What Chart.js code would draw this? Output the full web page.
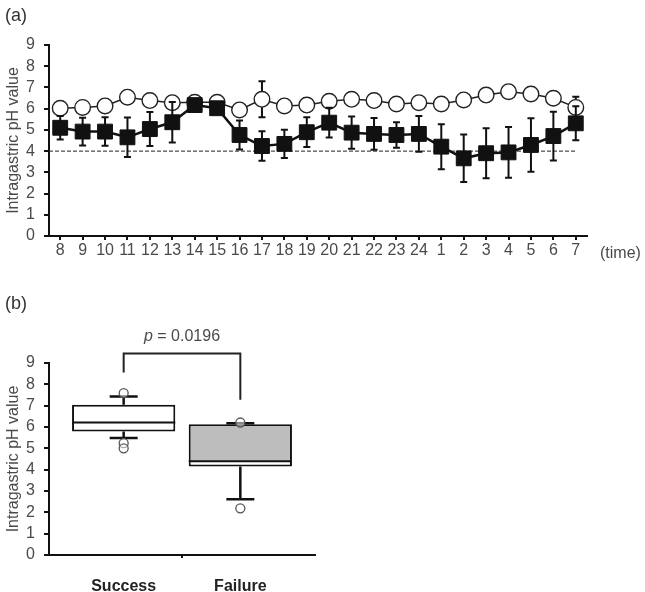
<!DOCTYPE html>
<html>
<head>
<meta charset="utf-8">
<script src="https://cdn.jsdelivr.net/npm/chart.js@4.4.1/dist/chart.umd.min.js"></script>
<style>
  html, body { margin: 0; padding: 0; background: #fff; }
  #wrap { position: relative; width: 645px; height: 592px; }
  #chartA { position: absolute; left: 0; top: 0; }
  #chartB { position: absolute; left: 0; top: 275px; }
</style>
</head>
<body>
<div id="wrap">
  <canvas id="chartA" width="645" height="275"></canvas>
  <canvas id="chartB" width="330" height="317"></canvas>
</div>
<script>
// (a) hourly mean pH, 8 o'clock to 7 o'clock next morning
const hours = ["8", "9", "10", "11", "12", "13", "14", "15", "16", "17", "18", "19", "20",
  "21", "22", "23", "24", "1", "2", "3", "4", "5", "6", "7"];
const successMean = [6.02, 6.06, 6.13, 6.54, 6.38, 6.28, 6.3, 6.3, 5.94, 6.44, 6.13, 6.17,
  6.35, 6.44, 6.38, 6.22, 6.28, 6.22, 6.41, 6.64, 6.8, 6.69, 6.49, 6.06];
const successSd = [0.3, 0.3, 0.3, 0.3, 0.3, 0.3, 0.3, 0.3, 0.3, 0.85, 0.3, 0.3,
  0.3, 0.3, 0.3, 0.3, 0.3, 0.3, 0.3, 0.3, 0.3, 0.3, 0.3, 0.5];
const failureMean = [5.1, 4.92, 4.92, 4.65, 5.04, 5.36, 6.17, 6.02, 4.76, 4.24, 4.34, 4.89,
  5.34, 4.87, 4.81, 4.76, 4.81, 4.21, 3.66, 3.9, 3.94, 4.29, 4.71, 5.31];
const failureSd = [0.55, 0.65, 0.67, 0.93, 0.8, 0.95, 0.2, 0.2, 0.68, 0.7, 0.67, 0.7,
  0.7, 0.76, 0.75, 0.6, 0.84, 1.06, 1.12, 1.18, 1.2, 1.26, 1.15, 0.8];
const cutoffPh = 4;

// (b) box plots
const groups = ["Success", "Failure"];
const boxQ1 = [5.79, 4.15];
const boxMedian = [6.21, 4.4];
const boxQ3 = [7.04, 6.13];
const whiskerLow = [5.48, 2.61];
const whiskerHigh = [7.43, 6.18];
const outlierGroup = [0, 0, 0, 1, 1];
const outlierValue = [7.59, 5.24, 5.0, 6.21, 2.19];
const pValue = "0.0196";
const bracketTop = 9.44;
const bracketLegs = [8.56, 7.28];

Chart.defaults.font.family = '"Liberation Sans", Arial, Helvetica, sans-serif';
Chart.defaults.animation = false;

const INK = "#111";
const TEXT = "#4a4a4a";

function phAxis() {
  return {
    min: 0,
    max: 9,
    ticks: { stepSize: 1, autoSkip: false, color: TEXT, font: { size: 16 }, padding: 9 },
    grid: { drawOnChartArea: false, drawTicks: true, tickLength: 5, color: INK, lineWidth: 2 },
    border: { color: INK, width: 2 },
    title: {
      display: true,
      text: "Intragastric pH value",
      color: TEXT,
      font: { size: 16 },
      padding: { top: 4, bottom: 0 },
    },
    afterFit: (scale) => {
      scale.width = 49;
    },
  };
}

const errorBars = {
  id: "errorBars",
  beforeDatasetDraw(chart, args) {
    const ds = chart.data.datasets[args.index];
    if (!ds.errors) return;
    const y = chart.scales.y;
    const ctx = chart.ctx;
    ctx.save();
    ctx.strokeStyle = INK;
    ctx.lineWidth = 2;
    args.meta.data.forEach((pt, i) => {
      const hi = y.getPixelForValue(ds.data[i] + ds.errors[i]);
      const lo = y.getPixelForValue(ds.data[i] - ds.errors[i]);
      ctx.beginPath();
      ctx.moveTo(pt.x, hi);
      ctx.lineTo(pt.x, lo);
      ctx.moveTo(pt.x - 3.5, hi);
      ctx.lineTo(pt.x + 3.5, hi);
      ctx.moveTo(pt.x - 3.5, lo);
      ctx.lineTo(pt.x + 3.5, lo);
      ctx.stroke();
    });
    ctx.restore();
  },
};

const panelA = {
  id: "panelA",
  beforeDatasetsDraw(chart) {
    const { ctx, chartArea, scales: { x, y } } = chart;
    const py = y.getPixelForValue(cutoffPh);
    ctx.save();
    ctx.setLineDash([4, 2]);
    ctx.lineWidth = 1;
    ctx.strokeStyle = "#222";
    ctx.beginPath();
    ctx.moveTo(chartArea.left, py);
    ctx.lineTo(x.getPixelForValue(hours.length - 1), py);
    ctx.stroke();
    ctx.restore();
  },
  afterDraw(chart) {
    const ctx = chart.ctx;
    ctx.save();
    ctx.fillStyle = "#333";
    ctx.textBaseline = "middle";
    ctx.textAlign = "left";
    ctx.font = '18px "Liberation Sans", Arial, sans-serif';
    ctx.fillText("(a)", 5, 16);
    ctx.fillStyle = TEXT;
    ctx.font = '16px "Liberation Sans", Arial, sans-serif';
    ctx.fillText("(time)", 600, 254);
    ctx.restore();
  },
};

new Chart(document.getElementById("chartA"), {
  type: "line",
  data: {
    labels: hours,
    datasets: [
      {
        label: "Failure",
        data: failureMean,
        errors: failureSd,
        borderColor: INK,
        borderWidth: 2.5,
        pointStyle: "rect",
        pointRadius: 10.5,
        pointBackgroundColor: INK,
        pointBorderColor: INK,
        pointBorderWidth: 1,
        tension: 0,
      },
      {
        label: "Success",
        data: successMean,
        errors: successSd,
        borderColor: "#222",
        borderWidth: 1.5,
        pointStyle: "circle",
        pointRadius: 7.8,
        pointBackgroundColor: "#fff",
        pointBorderColor: "#222",
        pointBorderWidth: 1.4,
        tension: 0,
      },
    ],
  },
  options: {
    responsive: false,
    layout: { padding: { top: 45, right: 58, left: 0, bottom: 0 } },
    plugins: { legend: { display: false }, tooltip: { enabled: false } },
    scales: {
      x: {
        type: "category",
        offset: true,
        ticks: { color: TEXT, font: { size: 16 }, padding: 1, autoSkip: false, maxRotation: 0 },
        grid: { offset: false, drawOnChartArea: false, drawTicks: true, tickLength: 4, color: INK, lineWidth: 2 },
        border: { color: INK, width: 2 },
        afterFit: (scale) => {
          scale.height = 39;
        },
      },
      y: phAxis(),
    },
  },
  plugins: [errorBars, panelA],
});

const panelB = {
  id: "panelB",
  beforeDatasetsDraw(chart) {
    const { ctx, scales: { x, y } } = chart;
    ctx.save();
    ctx.strokeStyle = INK;
    ctx.lineWidth = 2.5;
    groups.forEach((g, i) => {
      const px = x.getPixelForValue(i);
      const hi = y.getPixelForValue(whiskerHigh[i]);
      const lo = y.getPixelForValue(whiskerLow[i]);
      ctx.beginPath();
      ctx.moveTo(px, y.getPixelForValue(boxQ3[i]));
      ctx.lineTo(px, hi);
      ctx.moveTo(px, y.getPixelForValue(boxQ1[i]));
      ctx.lineTo(px, lo);
      ctx.moveTo(px - 14, hi);
      ctx.lineTo(px + 14, hi);
      ctx.moveTo(px - 14, lo);
      ctx.lineTo(px + 14, lo);
      ctx.stroke();
    });
    ctx.restore();
  },
  afterDatasetDraw(chart, args) {
    // median line once the box halves are drawn
    if (chart.data.datasets[args.index].label !== "upper") return;
    const { ctx, scales: { y } } = chart;
    ctx.save();
    ctx.strokeStyle = INK;
    ctx.lineWidth = 2;
    args.meta.data.forEach((bar, i) => {
      const py = y.getPixelForValue(boxMedian[i]);
      ctx.beginPath();
      ctx.moveTo(bar.x - bar.width / 2, py);
      ctx.lineTo(bar.x + bar.width / 2, py);
      ctx.stroke();
    });
    ctx.restore();
  },
  afterDraw(chart) {
    const { ctx, chartArea, scales: { x, y } } = chart;
    ctx.save();
    // significance bracket
    const top = y.getPixelForValue(bracketTop);
    const x0 = x.getPixelForValue(0);
    const x1 = x.getPixelForValue(1);
    ctx.strokeStyle = "#222";
    ctx.lineWidth = 2;
    ctx.beginPath();
    ctx.moveTo(x0, y.getPixelForValue(bracketLegs[0]));
    ctx.lineTo(x0, top);
    ctx.lineTo(x1, top);
    ctx.lineTo(x1, y.getPixelForValue(bracketLegs[1]));
    ctx.stroke();

    // p value text
    const italic = 'italic 16px "Liberation Sans", Arial, sans-serif';
    const plain = '16px "Liberation Sans", Arial, sans-serif';
    const rest = " = " + pValue;
    ctx.font = italic;
    const wP = ctx.measureText("p").width;
    ctx.font = plain;
    const wR = ctx.measureText(rest).width;
    const tx = (x0 + x1) / 2 - (wP + wR) / 2;
    const ty = top - 17;
    ctx.fillStyle = TEXT;
    ctx.textBaseline = "middle";
    ctx.textAlign = "left";
    ctx.font = italic;
    ctx.fillText("p", tx, ty);
    ctx.font = plain;
    ctx.fillText(rest, tx + wP, ty);

    // small mark at the middle of the x axis
    ctx.fillStyle = INK;
    ctx.fillRect(x.getPixelForValue(0.5) - 1, chartArea.bottom, 2, 3);

    ctx.fillStyle = "#333";
    ctx.font = '18px "Liberation Sans", Arial, sans-serif';
    ctx.fillText("(b)", 5, 29);
    ctx.restore();
  },
};

new Chart(document.getElementById("chartB"), {
  type: "bar",
  data: {
    datasets: [
      {
        type: "scatter",
        label: "outliers",
        data: outlierValue.map((v, i) => ({ x: outlierGroup[i], y: v })),
        pointRadius: 4.5,
        pointBackgroundColor: "rgba(255,255,255,0.5)",
        pointBorderColor: "#555",
        pointBorderWidth: 1.3,
        order: -1,
      },
      {
        label: "upper",
        data: groups.map((g, i) => ({ x: i, y: [boxMedian[i], boxQ3[i]] })),
        backgroundColor: ["#ffffff", "#bdbdbd"],
        borderColor: INK,
        borderWidth: { top: 2, left: 2, right: 2, bottom: 0 },
        borderSkipped: false,
        grouped: false,
        barPercentage: 0.885,
        categoryPercentage: 1,
      },
      {
        label: "lower",
        data: groups.map((g, i) => ({ x: i, y: [boxQ1[i], boxMedian[i]] })),
        backgroundColor: "#ffffff",
        borderColor: INK,
        borderWidth: { top: 0, left: 2, right: 2, bottom: 2 },
        borderSkipped: false,
        grouped: false,
        barPercentage: 0.885,
        categoryPercentage: 1,
      },
    ],
  },
  options: {
    responsive: false,
    layout: { padding: { top: 88, right: 15, left: 0, bottom: 0 } },
    plugins: { legend: { display: false }, tooltip: { enabled: false } },
    scales: {
      x: {
        type: "linear",
        min: -0.64,
        max: 1.64,
        offset: false,
        afterBuildTicks: (scale) => {
          scale.ticks = groups.map((g, i) => ({ value: i }));
        },
        ticks: {
          callback: (v) => groups[v],
          color: "#222",
          font: { size: 16, weight: "bold" },
          padding: 14,
          autoSkip: false,
          maxRotation: 0,
        },
        grid: { display: false },
        border: { color: INK, width: 2 },
        afterFit: (scale) => {
          scale.height = 37;
        },
      },
      y: phAxis(),
    },
  },
  plugins: [panelB],
});
</script>
</body>
</html>
